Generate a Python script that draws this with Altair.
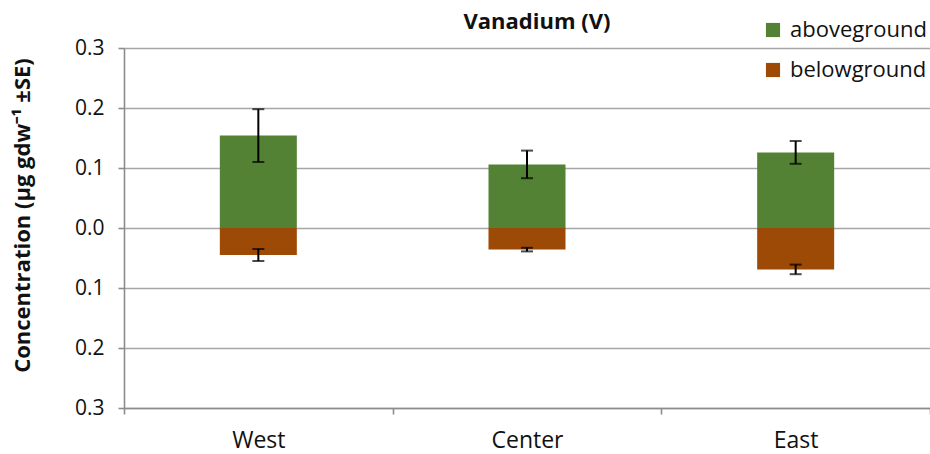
import altair as alt
import pandas as pd

# Vanadium concentration by site, split into above- and belowground biomass
regions = ["West", "Center", "East"]
above_mean = [0.154, 0.106, 0.126]
above_se = [0.044, 0.023, 0.019]
below_mean = [0.045, 0.036, 0.069]
below_se = [0.010, 0.003, 0.008]

fractions = ["aboveground", "belowground"]
colors = ["#548235", "#9c4a06"]

# y ticks every 0.05; labels and gridlines only on the 0.1 steps
tick_values = [round(i * 0.05, 2) for i in range(-6, 7)]

rows = []
for r, am, ase, bm, bse in zip(regions, above_mean, above_se, below_mean, below_se):
    rows.append({"region": r, "fraction": "aboveground", "value": am,
                 "lo": am - ase, "hi": am + ase})
    # belowground drawn downward from zero
    rows.append({"region": r, "fraction": "belowground", "value": -bm,
                 "lo": -bm - bse, "hi": -bm + bse})
df = pd.DataFrame(rows)

FONT = "Open Sans"
AXIS_GREY = "#8c8c8c"
GRID_GREY = "#a6a6a6"
minor = "round(abs(datum.value) * 20) % 2 == 1"

x_enc = alt.X(
    "region:N", sort=regions, title=None,
    scale=alt.Scale(paddingInner=0, paddingOuter=0),
    axis=alt.Axis(tickBand="extent", labelAngle=0, labelFont=FONT,
                  labelFontSize=23, labelColor="#111", labelPadding=15,
                  domainColor=AXIS_GREY, domainWidth=1.6, tickColor=AXIS_GREY,
                  tickWidth=1.6, tickSize=6, grid=False),
)

y_scale = alt.Scale(domain=[-0.3, 0.3], nice=False, zero=False)
y_axis = alt.Axis(
    values=tick_values,
    labelExpr=f"{minor} ? '' : format(abs(datum.value), '.1f')",
    labelFont=FONT, labelFontSize=21, labelColor="#111", labelPadding=14,
    grid=True,
    gridColor={"condition": {"test": minor, "value": "transparent"}, "value": GRID_GREY},
    gridWidth=1.4,
    domainColor=AXIS_GREY, domainWidth=1.6, tickColor=AXIS_GREY, tickWidth=1.6,
    tickSize=6,
    title="Concentration (µg gdw⁻¹ ±SE)", titleFont=FONT, titleFontSize=22,
    titleFontWeight="bold", titleColor="#111", titleAngle=-90,
    titleX=-102, titleY=167, titleAlign="center", titleBaseline="middle",
)

base = alt.Chart(df)

bars = base.mark_bar(size=77).encode(
    x=x_enc,
    y=alt.Y("value:Q", scale=y_scale, axis=y_axis, stack=None),
    y2=alt.datum(0),
    color=alt.Color(
        "fraction:N",
        scale=alt.Scale(domain=fractions, range=colors),
        legend=alt.Legend(
            title=None, orient="none", legendX=638, legendY=-29,
            symbolType="square", symbolSize=200, symbolStrokeWidth=0,
            labelFont=FONT, labelFontSize=22, labelColor="#111",
            labelOffset=6, rowPadding=18, padding=0,
        ),
    ),
)

err_rule = base.mark_rule(color="black", strokeWidth=2).encode(
    x=alt.X("region:N", sort=regions),
    y=alt.Y("lo:Q", scale=y_scale),
    y2="hi:Q",
)
cap_lo = base.mark_tick(color="black", size=12, thickness=2).encode(
    x=alt.X("region:N", sort=regions),
    y=alt.Y("lo:Q", scale=y_scale),
)
cap_hi = base.mark_tick(color="black", size=12, thickness=2).encode(
    x=alt.X("region:N", sort=regions),
    y=alt.Y("hi:Q", scale=y_scale),
)

chart = (
    alt.layer(bars, err_rule, cap_lo, cap_hi)
    .properties(
        width=806, height=360,
        autosize=alt.AutoSizeParams(type="none"),
        padding={"left": 124, "top": 48, "right": 0, "bottom": 46},
        title=alt.TitleParams("Vanadium (V)", font=FONT, fontSize=22,
                              fontWeight="bold", color="#111",
                              anchor="middle", offset=14, dx=10, dy=29),
        background="white",
    )
    .configure_view(stroke=None)
)

chart.save("out.html", embed_options={"renderer": "svg", "actions": False})
